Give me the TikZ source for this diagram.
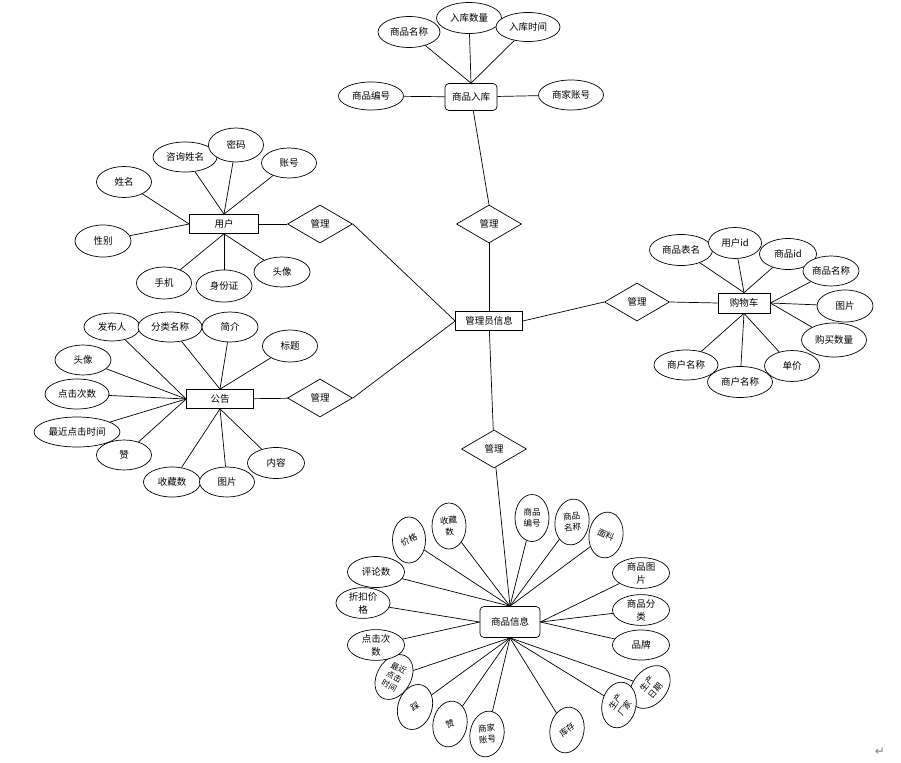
\documentclass[tikz,border=0pt]{standalone}
\usepackage{fontspec}
\setmainfont{Noto Sans CJK SC}
\newfontfamily\symfont{DejaVu Sans}
\usetikzlibrary{shapes.geometric}
\begin{document}
\begin{tikzpicture}[x=1pt,y=-1pt,
  every node/.style={font=\fontsize{9.5}{13}\selectfont},
  conn/.style={line width=0.7pt},
  attr/.style={ellipse, draw, fill=white, line width=0.7pt, inner sep=0pt, minimum width=56pt, minimum height=30pt, align=center},
  vattr/.style={ellipse, draw, fill=white, line width=0.7pt, inner sep=0pt, minimum width=34pt, minimum height=46pt},
  lbl/.style={inner sep=0pt, align=center, font=\fontsize{8.5}{11}\selectfont},
  ent/.style={rectangle, draw, fill=white, line width=0.7pt, inner sep=0pt, minimum width=67pt, minimum height=19pt},
  rent/.style={rectangle, rounded corners=4pt, draw, fill=white, line width=0.7pt, inner sep=0pt},
  rel/.style={diamond, draw, fill=white, line width=0.7pt, inner sep=0pt, minimum width=65pt, minimum height=38pt}
]
\useasboundingbox (0,0) rectangle (901,762);

% ---------------- central entities and relations
\node[ent] (adm) at (489,321) {管理员信息};
\node[rel] (g1) at (489,224) {管理};
\node[rel] (g2) at (494,449) {管理};
\node[rel] (gu) at (320,224) {管理};
\node[rel] (gg) at (320,398) {管理};
\node[rel] (gc) at (637,302) {管理};

% ---------------- 商品入库
\node[rent, minimum width=52pt, minimum height=27pt] (rk) at (471,97) {商品入库};
\node[attr, minimum width=62pt, minimum height=31pt] (rk1) at (409,32) {商品名称};
\node[attr, minimum width=65pt, minimum height=31pt] (rk2) at (469,18) {入库数量};
\node[attr, minimum width=64pt, minimum height=29pt] (rk3) at (528,27) {入库时间};
\node[attr, minimum width=65pt, minimum height=28pt] (rk4) at (371,96) {商品编号};
\node[attr, minimum width=65pt, minimum height=30pt] (rk5) at (571,95) {商家账号};
\draw[conn] (rk1) -- (rk.north);
\draw[conn] (rk2) -- (rk.north);
\draw[conn] (rk3) -- (rk.north);
\draw[conn] (rk4) -- (rk);
\draw[conn] (rk5) -- (rk);
\draw[conn] (rk) -- (g1.north);
\draw[conn] (g1) -- (adm);

% ---------------- 用户
\node[ent, minimum width=69pt] (user) at (224,224) {用户};
\node[attr, minimum width=64pt] (u1) at (185,157) {咨询姓名};
\node[attr, minimum width=55pt, minimum height=34pt] (u2) at (236,145) {密码};
\node[attr, minimum width=55pt] (u3) at (289,163) {账号};
\node[attr, minimum width=55pt, minimum height=31pt] (u4) at (124,182) {姓名};
\node[attr, minimum height=32pt] (u5) at (103,241) {性别};
\node[attr, minimum width=55pt, minimum height=32pt] (u6) at (164,283) {手机};
\node[attr, minimum height=32pt] (u7) at (224,286) {身份证};
\node[attr] (u8) at (282,272) {头像};
\draw[conn] (u1) -- (user.north);
\draw[conn] (u2) -- (user.north);
\draw[conn] (u3) -- (user.north);
\draw[conn] (u4) -- (user.west);
\draw[conn] (u5) -- (user.west);
\draw[conn] (u6) -- (user.south);
\draw[conn] (u7) -- (user.south);
\draw[conn] (u8) -- (user.south);
\draw[conn] (user) -- (gu);
\draw[conn] (gu.east) -- (adm.west);

% ---------------- 公告
\node[ent] (gong) at (220,399) {公告};
\node[attr, minimum height=28pt] (n1) at (112,327) {发布人};
\node[attr, minimum width=64pt] (n2) at (170,327) {分类名称};
\node[attr] (n3) at (230,327) {简介};
\node[attr, minimum width=55pt, minimum height=32pt] (n4) at (290,346) {标题};
\node[attr] (n5) at (83,360) {头像};
\node[attr, minimum width=64pt] (n6) at (77,394) {点击次数};
\node[attr, minimum width=86pt] (n7) at (77,432) {最近点击时间};
\node[attr, minimum width=55pt] (n8) at (124,455) {赞};
\node[attr, minimum width=57pt] (n9) at (172,482) {收藏数};
\node[attr, minimum width=55pt] (n10) at (227,482) {图片};
\node[attr, minimum width=57pt, minimum height=31pt] (n11) at (276,463) {内容};
\draw[conn] (n1) -- (gong.west);
\draw[conn] (n2) -- (gong.north);
\draw[conn] (n3) -- (gong.north);
\draw[conn] (n4) -- (gong.north);
\draw[conn] (n5) -- (gong.west);
\draw[conn] (n6) -- (gong.west);
\draw[conn] (n7) -- (gong.west);
\draw[conn] (n8) -- (gong.west);
\draw[conn] (n9) -- (gong.south);
\draw[conn] (n10) -- (gong.south);
\draw[conn] (n11) -- (gong.south);
\draw[conn] (gong) -- (gg);
\draw[conn] (gg.east) -- (adm.west);

% ---------------- 购物车
\node[ent, minimum width=52pt, minimum height=20pt] (cart) at (744,303) {购物车};
\node[attr, minimum width=63pt, minimum height=31pt] (c1) at (681,250) {商品表名};
\node[attr, minimum width=53pt, minimum height=31pt] (c2) at (735,243) {用户id};
\node[attr, minimum width=57pt, minimum height=31pt] (c3) at (788,254) {商品id};
\node[attr] (c4) at (831,271) {商品名称};
\node[attr, minimum height=32pt] (c5) at (845,306) {图片};
\node[attr, minimum width=65pt, minimum height=34pt] (c6) at (834,340) {购买数量};
\node[attr, minimum width=55pt, minimum height=31pt] (c7) at (792,366) {单价};
\node[attr, minimum width=64pt] (c9) at (686,365) {商户名称};
\node[attr, minimum width=65pt, minimum height=31pt] (c8) at (740,382) {商户名称};
\draw[conn] (c1) -- (cart.north);
\draw[conn] (c2) -- (cart.north);
\draw[conn] (c3) -- (cart.north);
\draw[conn] (c4) -- (cart.east);
\draw[conn] (c5) -- (cart.east);
\draw[conn] (c6) -- (cart.east);
\draw[conn] (c7) -- (cart.south);
\draw[conn] (c8) -- (cart.south);
\draw[conn] (c9) -- (cart.south);
\draw[conn] (adm.east) -- (gc.west);
\draw[conn] (gc.east) -- (cart.west);

% ---------------- 商品信息
\node[rent, minimum width=60pt, minimum height=31pt] (sp) at (510,622) {商品信息};
\draw[conn] (g2) -- (adm);
\draw[conn] (g2) -- (sp.north);

\node[vattr, minimum width=33pt] (b1) at (409,540) {};
\node[lbl, rotate=25] (b1t) at (409,540) {价格};
\node[vattr] (b2) at (449,526) {};
\node[lbl, rotate=5] (b2t) at (449,526) {收藏\\数};
\node[vattr, minimum height=47pt] (b3) at (532,518) {};
\node[lbl] (b3t) at (532,518) {商品\\编号};
\node[vattr, rotate=-8] (b4) at (572,522) {};
\node[lbl, rotate=5] (b4t) at (572,522) {商品\\名称};
\node[vattr, rotate=-8] (b5) at (606,535) {};
\node[lbl, rotate=-25] (b5t) at (606,535) {面料};
\node[attr, minimum width=57pt] (b6) at (641,573) {商品图\\片};
\node[attr, minimum width=57pt] (b7) at (641,610) {商品分\\类};
\node[attr, minimum width=57pt] (b8) at (641,645) {品牌};
\node[vattr, rotate=-40, minimum height=48pt] (b9) at (650,687) {};
\node[lbl, rotate=50] (b9t) at (651,687) {生产\\日期};
\node[vattr, rotate=-12] (b10) at (619,705) {};
\node[lbl, rotate=55] (b10t) at (620,705) {生产\\厂家};
\node[vattr, rotate=-10] (b11) at (567,730) {};
\node[lbl, rotate=40] (b11t) at (567,730) {库存};
\node[vattr, rotate=-10] (b12) at (487,734) {};
\node[lbl, rotate=5] (b12t) at (487,734) {商家\\账号};
\node[vattr, rotate=-10] (b13) at (450,724) {};
\node[lbl, rotate=20] (b13t) at (450,724) {赞};
\node[vattr, rotate=-18] (b14) at (415,707) {};
\node[lbl, rotate=30] (b14t) at (415,707) {踩};
\node[vattr, rotate=-30, minimum height=48pt] (b15) at (394,677) {};
\node[lbl, rotate=-28, font=\fontsize{8}{10}\selectfont] (b15t) at (394,677) {最近\\点击\\时间};
\node[attr, minimum width=57pt] (b16) at (376,645) {点击次\\数};
\node[attr, minimum width=54pt] (b17) at (363,603) {折扣价\\格};
\node[attr, minimum width=57pt, minimum height=31pt] (b18) at (376,572) {评论数};

\draw[conn] (b1) -- (sp.north);
\draw[conn] (b2) -- (sp.north);
\draw[conn] (b3) -- (sp.north);
\draw[conn] (b4) -- (sp.north);
\draw[conn] (b5) -- (sp.north);
\draw[conn] (b6) -- (sp.east);
\draw[conn] (b7) -- (sp.east);
\draw[conn] (b8) -- (sp.east);
\draw[conn] (b9) -- (sp.south);
\draw[conn] (b10) -- (sp.south);
\draw[conn] (b11) -- (sp.south);
\draw[conn] (b12) -- (sp.south);
\draw[conn] (b13) -- (sp.south);
\draw[conn] (b14) -- (sp.south);
\draw[conn] (b15) -- (sp.south);
\draw[conn] (b16) -- (sp.west);
\draw[conn] (b17) -- (sp.west);
\draw[conn] (b18) -- (sp.north);

\node[text=gray, font=\symfont\fontsize{12}{12}\selectfont, inner sep=0pt] (ret) at (880,752) {↵};
\end{tikzpicture}
\end{document}
